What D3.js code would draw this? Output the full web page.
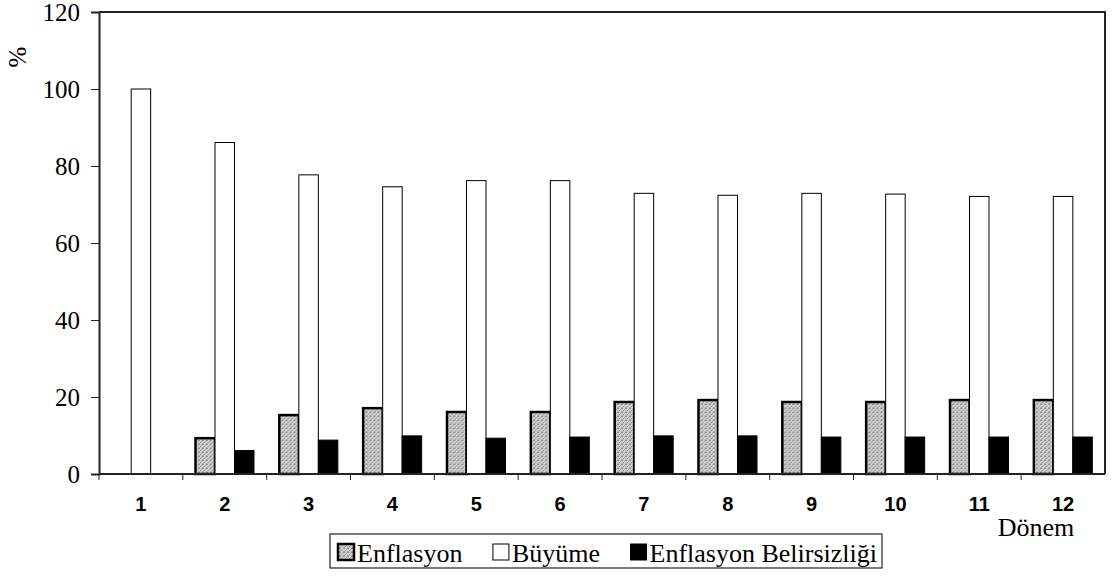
<!DOCTYPE html>
<html>
<head>
<meta charset="utf-8">
<script src="https://cdn.jsdelivr.net/npm/d3@7"></script>
<style>
  body { margin: 0; background: #fff; }
  svg { display: block; }
</style>
</head>
<body>
<div id="target"></div>
<script>
// data
var periods = ['1','2','3','4','5','6','7','8','9','10','11','12'];
var seriesNames = ['Enflasyon', 'Büyüme', 'Enflasyon Belirsizliği'];
var enflasyon   = [0, 9.3, 15.3, 17.1, 16.1, 16.1, 18.7, 19.2, 18.7, 18.7, 19.2, 19.2];
var buyume      = [100, 86.1, 77.7, 74.6, 76.2, 76.2, 72.9, 72.4, 72.9, 72.7, 72.1, 72.1];
var belirsizlik = [0, 6.1, 8.8, 9.9, 9.3, 9.6, 9.9, 9.9, 9.6, 9.6, 9.6, 9.6];
var yTicks = [0, 20, 40, 60, 80, 100, 120];

var W = 1113, H = 580;
var pLeft = 99, pRight = 1105, pTop = 12, pBottom = 474;
var serif = '"Liberation Serif", "Times New Roman", serif';

var svg = d3.select('#target').append('svg')
    .attr('width', W)
    .attr('height', H);

// grey stipple fill like the scan
var defs = svg.append('defs');
var pat = defs.append('pattern')
    .attr('id', 'dots')
    .attr('width', 4).attr('height', 4)
    .attr('patternUnits', 'userSpaceOnUse');
pat.append('rect').attr('width', 4).attr('height', 4).attr('fill', '#d2d2d2');
[[0, 0], [2, 1], [1, 2], [3, 3], [3, 0], [0, 3]].forEach(function(p, i) {
  pat.append('rect')
      .attr('x', p[0]).attr('y', p[1])
      .attr('width', 1).attr('height', 1)
      .attr('fill', i % 2 ? '#a4a4a4' : '#8c8c8c');
});

var x0 = d3.scaleBand().domain(periods).range([pLeft, pRight]).paddingInner(0).paddingOuter(0);
var x1 = d3.scaleBand().domain(seriesNames).range([0, x0.bandwidth()]).paddingInner(0).paddingOuter(0.65);
var y = d3.scaleLinear().domain([0, 120]).range([pBottom, pTop]);

var styles = {
  'Enflasyon': { fill: 'url(#dots)', stroke: '#000', sw: 2.5 },
  'Büyüme': { fill: '#fff', stroke: '#000', sw: 1 },
  'Enflasyon Belirsizliği': { fill: '#000', stroke: '#000', sw: 1 }
};

var rows = periods.map(function(p, i) {
  return { period: p, values: [
    { name: seriesNames[0], v: enflasyon[i] },
    { name: seriesNames[1], v: buyume[i] },
    { name: seriesNames[2], v: belirsizlik[i] }
  ]};
});

// frame (top and right)
svg.append('path')
    .attr('d', 'M' + pLeft + ',' + pTop + 'H' + pRight + 'V' + pBottom)
    .attr('fill', 'none')
    .attr('stroke', '#222')
    .attr('stroke-width', 2);

// bars
var groups = svg.selectAll('g.grp')
    .data(rows)
    .enter().append('g')
    .attr('class', 'grp')
    .attr('transform', function(d) { return 'translate(' + x0(d.period) + ',0)'; });

groups.selectAll('rect')
    .data(function(d) { return d.values.filter(function(e) { return e.v > 0; }); })
    .enter().append('rect')
    .attr('x', function(d) { return x1(d.name); })
    .attr('y', function(d) { return y(d.v); })
    .attr('width', x1.bandwidth())
    .attr('height', function(d) { return y(0) - y(d.v); })
    .attr('fill', function(d) { return styles[d.name].fill; })
    .attr('stroke', function(d) { return styles[d.name].stroke; })
    .attr('stroke-width', function(d) { return styles[d.name].sw; });

// y axis
var yAxis = svg.append('g')
    .attr('transform', 'translate(' + pLeft + ',0)')
    .call(d3.axisLeft(y).tickValues(yTicks).tickSize(8).tickPadding(11));
yAxis.select('.domain').attr('stroke', '#222').attr('stroke-width', 2);
yAxis.selectAll('.tick line').attr('stroke', '#222');
yAxis.selectAll('.tick text')
    .attr('font-family', serif)
    .attr('font-size', 25)
    .attr('fill', '#000');

// x axis, ticks between categories
var xAxis = svg.append('g')
    .attr('transform', 'translate(0,' + pBottom + ')');
xAxis.append('line')
    .attr('x1', pLeft).attr('x2', pRight)
    .attr('stroke', '#222').attr('stroke-width', 2);
xAxis.selectAll('line.tk')
    .data(periods)
    .enter().append('line')
    .attr('class', 'tk')
    .attr('x1', function(d) { return x0(d); })
    .attr('x2', function(d) { return x0(d); })
    .attr('y1', 0).attr('y2', 6)
    .attr('stroke', '#222');
xAxis.selectAll('text')
    .data(periods)
    .enter().append('text')
    .attr('x', function(d) { return x0(d) + x0.bandwidth() / 2; })
    .attr('y', 37)
    .attr('text-anchor', 'middle')
    .attr('font-family', '"Liberation Sans", Arial, sans-serif')
    .attr('font-size', 20)
    .attr('font-weight', 'bold')
    .text(function(d) { return d; });

// axis titles
svg.append('text')
    .attr('transform', 'translate(26,57) rotate(-90)')
    .attr('text-anchor', 'middle')
    .attr('font-family', serif)
    .attr('font-size', 25)
    .text('%');

svg.append('text')
    .attr('x', 1036).attr('y', 536)
    .attr('text-anchor', 'middle')
    .attr('font-family', serif)
    .attr('font-size', 26)
    .text('Dönem');

// legend
var legend = svg.append('g');
legend.append('rect')
    .attr('x', 330).attr('y', 534)
    .attr('width', 552).attr('height', 34)
    .attr('fill', '#fff').attr('stroke', '#222').attr('stroke-width', 1.2);

var items = seriesNames.map(function(name) {
  var t = legend.append('text')
      .attr('y', 562)
      .attr('font-family', serif)
      .attr('font-size', 26)
      .text(name);
  return { name: name, t: t, w: t.node().getComputedTextLength() };
});
var sq = 16, sqGap = 3, startX = 338, endX = 877;
var used = d3.sum(items, function(d) { return sq + sqGap + d.w; });
var gap = (endX - startX - used) / (items.length - 1);
var lx = startX;
items.forEach(function(it, i) {
  legend.append('rect')
      .attr('x', lx).attr('y', 544)
      .attr('width', sq).attr('height', sq)
      .attr('fill', styles[it.name].fill)
      .attr('stroke', '#000')
      .attr('stroke-width', i === 0 ? 2.5 : 1);
  it.t.attr('x', lx + sq + sqGap);
  lx = lx + sq + sqGap + it.w + gap;
});
</script>
</body>
</html>
